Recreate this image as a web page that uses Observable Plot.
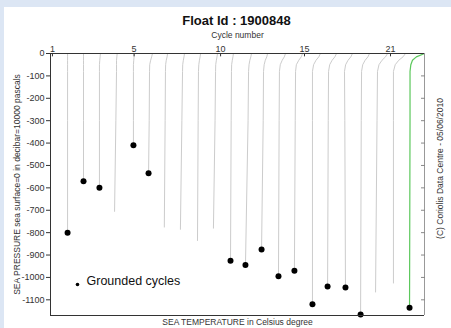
<!DOCTYPE html>
<html>
<head>
<meta charset="utf-8">
<script src="https://cdn.jsdelivr.net/npm/d3@7"></script>
<script src="https://cdn.jsdelivr.net/npm/@observablehq/plot@0.6"></script>
<style>
  html, body { margin: 0; padding: 0; background: #dce6f4; width: 451px; height: 328px; overflow: hidden; }
  #panel { position: absolute; left: 4px; top: 7px; width: 447px; height: 321px; background: #ffffff; }
  svg { font-family: "Liberation Sans", Arial, sans-serif; }
</style>
</head>
<body>
<div id="panel"></div>
<script>
// ---- data ----
const titleText = "Float Id : 1900848";
const topAxisTitle = "Cycle number";
const xAxisTitle = "SEA TEMPERATURE in Celsius degree";
const yAxisTitle = "SEA PRESSURE sea surface=0 in decibar=10000 pascals";
const creditText = "(C) Coriolis Data Centre - 05/06/2010";
const legendLabel = "Grounded cycles";

const cycleTickLabels = ["1", "5", "10", "15", "21"];
const cycleTickTemp = [0.12, 5.14, 10.46, 15.62, 20.91];
const pressureTicks = [0, -100, -200, -300, -400, -500, -600, -700, -800, -900, -1000, -1100];

// shared upper pressure levels of each profile
const profileLevels = [0, -15, -30, -50, -80, -300];
// temperature (offset, per profile) at those levels
const profileTemps = [
  [1.05, 1.05, 1.05, 1.05, 1.05, 1.05],
  [2.03, 2.03, 2.03, 2.03, 2.03, 2.03],
  [3.07, 3.05, 3.03, 3.01, 3.01, 3.01],
  [4.10, 4.08, 4.06, 4.06, 4.06, 4.02],
  [5.16, 5.14, 5.12, 5.10, 5.10, 5.10],
  [6.27, 6.22, 6.16, 6.10, 6.09, 6.07],
  [7.20, 7.17, 7.12, 7.08, 7.07, 7.05],
  [8.24, 8.21, 8.17, 8.13, 8.12, 8.08],
  [9.23, 9.20, 9.16, 9.12, 9.10, 9.08],
  [10.27, 10.24, 10.20, 10.16, 10.15, 10.12],
  [11.25, 11.22, 11.18, 11.14, 11.13, 11.11],
  [12.36, 12.32, 12.26, 12.21, 12.18, 12.15],
  [13.35, 13.30, 13.21, 13.14, 13.10, 13.08],
  [14.45, 14.38, 14.25, 14.13, 14.08, 14.06],
  [15.50, 15.42, 15.27, 15.12, 15.07, 15.05],
  [16.60, 16.50, 16.33, 16.18, 16.11, 16.11],
  [17.59, 17.49, 17.32, 17.17, 17.10, 17.08],
  [18.57, 18.47, 18.30, 18.15, 18.08, 18.10],
  [19.62, 19.52, 19.35, 19.20, 19.13, 19.11],
  [20.73, 20.60, 20.39, 20.20, 20.11, 20.08],
  [21.83, 21.68, 21.42, 21.20, 21.09, 21.09],
  [23.00, 22.50, 22.26, 22.16, 22.11, 22.11]
];
const bottomPressure = [-800, -570, -600, -705, -410, -535, -775, -785, -835, -780, -925, -945, -875, -995, -970, -1120, -1040, -1045, -1165, -1065, -1025, -1135];
const bottomTemp = [1.05, 2.03, 3.01, 3.94, 5.10, 6.03, 7.00, 7.99, 9.04, 10.02, 11.07, 11.99, 12.98, 14.02, 15.00, 16.11, 17.04, 18.14, 19.07, 19.99, 21.09, 22.08];
const grounded = [true, true, true, false, true, true, false, false, false, false, true, true, true, true, true, true, true, true, true, false, false, true];
const latestProfile = 21; // index of the highlighted (last) profile

// ---- build tables ----
const points = [];
profileTemps.forEach((temps, i) => {
  profileLevels.forEach((p, j) => {
    if (p > bottomPressure[i]) points.push({profile: i, pressure: p, temp: temps[j]});
  });
  points.push({profile: i, pressure: bottomPressure[i], temp: bottomTemp[i]});
});
const oldPoints = points.filter(d => d.profile !== latestProfile);
const lastPoints = points.filter(d => d.profile === latestProfile);
const groundPoints = bottomTemp.map((t, i) => ({temp: t, pressure: bottomPressure[i], g: grounded[i]})).filter(d => d.g);
const xTickData = cycleTickTemp.map((t, i) => ({temp: t, label: cycleTickLabels[i]}));

const dark = "#333333";
const chart = Plot.plot({
  width: 447,
  height: 321,
  marginLeft: 46,
  marginRight: 27,
  marginTop: 46,
  marginBottom: 13,
  style: {fontFamily: "'Liberation Sans', Arial, sans-serif", background: "transparent", overflow: "visible"},
  x: {domain: [0, 23], axis: null},
  y: {domain: [-1170, 0]},
  marks: [
    Plot.line(oldPoints, {x: "temp", y: "pressure", z: "profile", stroke: "#cccccc", strokeWidth: 1}),
    Plot.line(lastPoints, {x: "temp", y: "pressure", stroke: "#5cc85c", strokeWidth: 1.2}),
    Plot.dot(groundPoints, {x: "temp", y: "pressure", r: 3, fill: "black", stroke: "none"}),
    // frame
    Plot.ruleY([0], {stroke: dark}),
    Plot.ruleY([-1170], {stroke: dark}),
    Plot.ruleX([0], {stroke: dark}),
    Plot.ruleX([23], {stroke: "#999999"}),
    // left axis
    Plot.axisY({ticks: pressureTicks, tickFormat: d => String(d), tickSize: 4, tickPadding: 2, fontSize: 9, color: dark, label: null}),
    // right axis inward ticks
    Plot.axisY({anchor: "right", ticks: pressureTicks.filter(d => d !== 0), tickFormat: () => "", tickSize: -4, stroke: "#888", label: null}),
    // top cycle axis
    Plot.ruleX(xTickData, {x: "temp", y1: 0, y2: -15, stroke: dark}),
    Plot.text(xTickData, {x: "temp", text: "label", frameAnchor: "top", dy: -8, fontSize: 9, fill: dark}),
    // titles
    Plot.text([titleText], {frameAnchor: "top", dy: -38, dx: -1, fontSize: 13, fontWeight: "bold", fill: "#111"}),
    Plot.text([topAxisTitle], {frameAnchor: "top", dy: -22, fontSize: 8.5, fill: dark}),
    Plot.text([xAxisTitle], {frameAnchor: "bottom", dy: 9, fontSize: 8.5, fill: dark}),
    Plot.text([yAxisTitle], {frameAnchor: "left", textAnchor: "middle", dx: -33, rotate: -90, fontSize: 8.5, fill: dark}),
    Plot.text([creditText], {frameAnchor: "right", textAnchor: "middle", dx: 16, dy: -16, rotate: -90, fontSize: 8.5, fill: dark}),
    // legend
    Plot.dot([legendLabel], {frameAnchor: "bottom-left", dx: 27, dy: -31, r: 1.8, fill: "black", stroke: "none"}),
    Plot.text([legendLabel], {frameAnchor: "bottom-left", dx: 36, dy: -31, textAnchor: "start", fontSize: 12.5, fill: "#111"})
  ]
});
document.getElementById("panel").appendChild(chart);
</script>
</body>
</html>
